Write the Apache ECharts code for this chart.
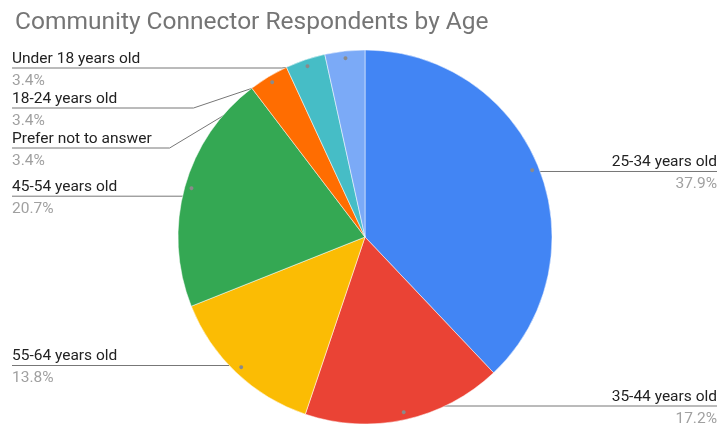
<!DOCTYPE html>
<html>
<head>
<meta charset="utf-8">
<script src="https://cdn.jsdelivr.net/npm/echarts@6/dist/echarts.min.js"></script>
<style>
html,body{margin:0;padding:0;background:#fff;}
#chart{width:719px;height:426px;}
</style>
</head>
<body>
<div id="chart"></div>
<script>
const titleText = 'Community Connector Respondents by Age';
const categories = ['25-34 years old', '35-44 years old', '55-64 years old', '45-54 years old', 'Prefer not to answer', '18-24 years old', 'Under 18 years old'];
const counts = [11, 5, 4, 6, 1, 1, 1];
const colors = ['#4285F4', '#EA4335', '#FBBC04', '#34A853', '#FF6D01', '#46BDC6', '#7BAAF7'];

const total = counts.reduce((a, b) => a + b, 0);
const pieData = categories.map((c, i) => ({ name: c, value: counts[i], itemStyle: { color: colors[i] } }));
const ghostData = categories.map((c, i) => ({ name: c, value: counts[i] }));

const CH = 426;
const chart = echarts.init(document.getElementById('chart'), null, { renderer: 'canvas' });
const R = 187;
const common = {
  type: 'pie',
  left: 10, right: 0, top: 48, bottom: 0,
  center: [355, 189],
  startAngle: 90,
  clockwise: true,
  animation: false,
  silent: true,
  emphasis: { disabled: true }
};
chart.setOption({
  animation: false,
  title: {
    text: titleText,
    left: 10, top: 5,
    textStyle: { fontFamily: 'Roboto', fontSize: 24.5, fontWeight: 'normal', color: '#757575' }
  },
  series: [
    Object.assign({}, common, {
      radius: R,
      data: pieData,
      itemStyle: { borderColor: '#fff', borderWidth: 0.5 },
      label: { show: false },
      labelLine: { show: false }
    }),
    Object.assign({}, common, {
      radius: R - 10,
      data: ghostData,
      itemStyle: { color: 'rgba(0,0,0,0)' },
      avoidLabelOverlap: true,
      label: {
        show: true,
        position: 'outside',
        alignTo: 'edge',
        edgeDistance: 2,
        formatter: p => '{name|' + p.name + '}\n{pct|' + (p.value / total * 100).toFixed(1) + '%}',
        rich: {
          name: { fontFamily: 'Roboto', fontSize: 15.5, color: '#222222', lineHeight: 19, verticalAlign: 'top' },
          pct: { fontFamily: 'Roboto', fontSize: 15.5, color: '#a0a0a0', lineHeight: 19, verticalAlign: 'bottom' }
        }
      },
      labelLine: { show: true, length: 0, length2: 10, lineStyle: { color: '#777777', width: 1 } },
      labelLayout: function (params) {
        const pts = params.labelLinePoints;
        if (!pts || !pts.length) return {};
        const first = pts[0];
        const last = pts[pts.length - 1];
        const rect = params.labelRect;
        const isLeft = last[0] < first[0];
        let lineY = last[1];
        let shift = 0;
        const diff = first[1] - last[1];
        if (Math.abs(diff) > 0.5 && Math.abs(diff) < 6 && rect.y + rect.height + diff + 2 <= CH - 2) {
          shift = diff;
          lineY = first[1];
        }
        const newPts = pts.map(p => [p[0], p[1]]);
        for (let i = 1; i < newPts.length; i++) {
          if (shift !== 0) newPts[i][1] = lineY;
        }
        newPts[newPts.length - 1] = [isLeft ? rect.x : rect.x + rect.width, lineY];
        return { dy: 2 + shift, labelLinePoints: newPts };
      }
    }),
    Object.assign({}, common, {
      radius: [R - 20, R],
      data: ghostData,
      itemStyle: { color: 'rgba(0,0,0,0)' },
      label: { show: true, position: 'inside', formatter: '\u25CF', fontSize: 9, color: '#8a8a8a' },
      labelLine: { show: false }
    })
  ]
});
</script>
</body>
</html>
